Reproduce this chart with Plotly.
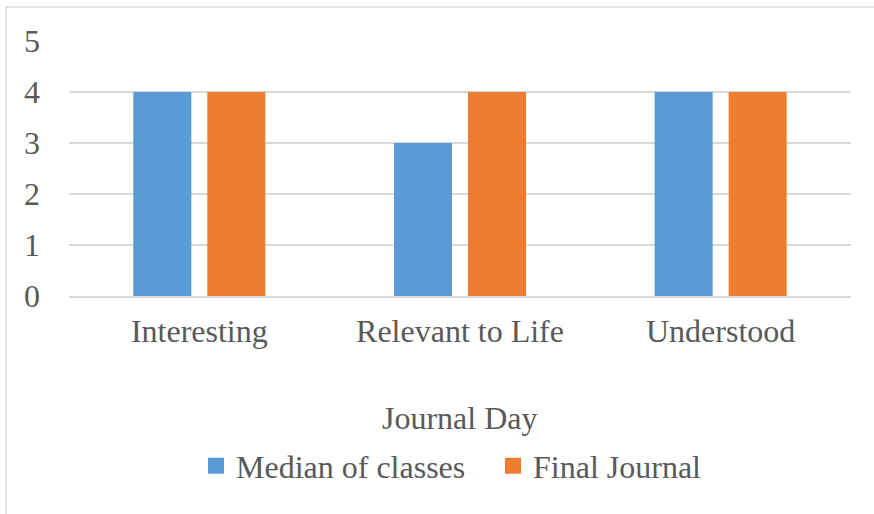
import plotly.graph_objects as go

categories = ["Interesting", "Relevant to Life", "Understood"]
median_of_classes = [4, 3, 4]
final_journal = [4, 4, 4]
y_ticks = [0, 1, 2, 3, 4, 5]
series_names = ["Median of classes", "Final Journal"]
series_colors = ["#5B9BD5", "#ED7D31"]

FONT = "Liberation Serif, Times New Roman, serif"
FS = 32
TXT = "#595959"
GRID = "#D9D9D9"

fig = go.Figure()
for name, vals, col in zip(series_names, [median_of_classes, final_journal], series_colors):
    fig.add_trace(go.Bar(name=name, x=categories, y=vals, showlegend=False,
                         marker=dict(color=col, line=dict(width=0))))
# legend entries with larger square swatches
for name, col in zip(series_names, series_colors):
    fig.add_trace(go.Scatter(name=name, x=[None], y=[None], mode="markers",
                             marker=dict(symbol="square", size=17, color=col)))

W, H = 874, 514
L, R, T, B = 69, 23, 41, 218
pw, ph = W - L - R, H - T - B

def px(x):
    return (x - L) / pw

def py(y):
    return (H - B - y) / ph

fig.update_layout(
    width=W, height=H,
    margin=dict(l=L, r=R, t=T, b=B, autoexpand=False),
    paper_bgcolor="white", plot_bgcolor="white",
    barmode="group", bargap=0.432, bargroupgap=0.216,
    font=dict(family=FONT, size=FS, color=TXT),
    showlegend=True,
    legend=dict(orientation="h", x=0.5 + 33 / pw, xanchor="center", y=py(466), yanchor="middle",
                font=dict(family=FONT, size=FS, color=TXT),
                itemsizing="trace", traceorder="normal",
                entrywidthmode="pixels", entrywidth=252),
    xaxis=dict(showgrid=False, showline=True, linecolor=GRID, linewidth=1.5,
               ticks="", ticklabelstandoff=6, tickfont=dict(size=FS, color=TXT)),
    yaxis=dict(range=[0, 5], tickvals=y_ticks, showgrid=True, gridcolor=GRID, gridwidth=1.5,
               zeroline=False, showline=False, ticks="", ticklabelstandoff=28,
               tickfont=dict(size=FS, color=TXT)),
    shapes=[dict(type="rect", xref="paper", yref="paper",
                 x0=px(6), x1=px(890), y0=py(530), y1=py(7),
                 line=dict(color=GRID, width=1.5), fillcolor="rgba(0,0,0,0)", layer="below")],
    annotations=[dict(text="Journal Day", xref="paper", yref="paper", x=0.5, y=py(418),
                      xanchor="center", yanchor="middle", showarrow=False,
                      font=dict(family=FONT, size=FS, color=TXT))],
)

fig.write_html("out.html", config={"displayModeBar": False},
               post_script="document.body.style.margin='0';")
